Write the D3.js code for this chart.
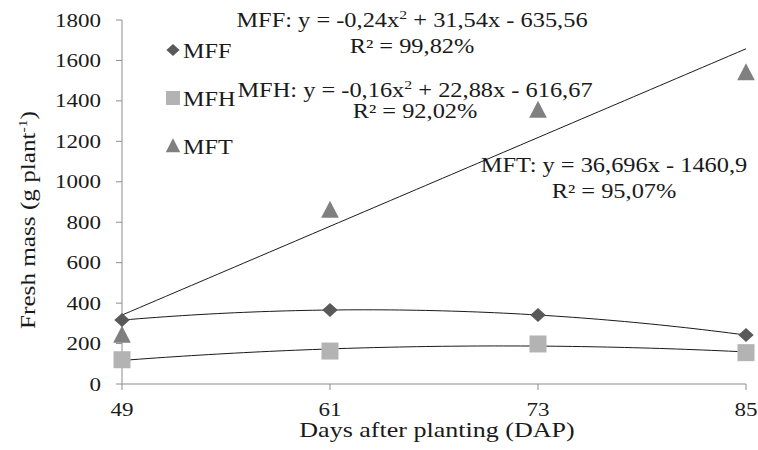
<!DOCTYPE html>
<html>
<head>
<meta charset="utf-8">
<script src="https://cdn.jsdelivr.net/npm/d3@7"></script>
<style>
  html, body { margin: 0; padding: 0; background: #fff; }
  svg { display: block; }
  svg text { font-family: "Liberation Serif", "Tinos", "DejaVu Serif", "Times New Roman", Times, serif; fill: #1a1a1a; }
</style>
</head>
<body>
<svg id="chart" width="758" height="450" font-family="Liberation Serif, DejaVu Serif, serif"></svg>
<script>
// ---- data ----
const days = [49, 61, 73, 85];
const xTicks = [49, 61, 73, 85];
const yTicks = [0, 200, 400, 600, 800, 1000, 1200, 1400, 1600, 1800];
const seriesNames = ["MFF", "MFH", "MFT"];
const mff = [316, 366, 341, 242];
const mfh = [120, 163, 198, 155];
const mft = [242, 860, 1355, 1540];
const fitDegree = [2, 2, 1];
const eqLabels = [
  ["MFF: y = -0,24x", "2", " + 31,54x - 635,56"],
  ["MFH: y = -0,16x", "2", " + 22,88x - 616,67"],
  ["MFT: y = 36,696x - 1460,9", "", ""]
];
const r2Labels = ["R² = 99,82%", "R² = 92,02%", "R² = 95,07%"];
const xTitle = "Days after planting (DAP)";
const yTitle = ["Fresh mass (g plant", "-1", ")"];

// ---- styles ----
const colors = ["#595959", "#b3b3b3", "#808080"];
const SX = 1.22;
const svg = d3.select("#chart");

const x = d3.scaleLinear().domain([49, 85]).range([122, 746]);
const y = d3.scaleLinear().domain([0, 1800]).range([384, 20]);

// axes
const axisColor = "#8c8c8c";
const gx = svg.append("g").attr("transform", `translate(0,${y(0)})`);
gx.append("line").attr("x1", x(49)).attr("x2", x(85)).attr("stroke", axisColor);
gx.selectAll("line.t").data(xTicks).enter().append("line").attr("class", "t")
  .attr("x1", d => x(d)).attr("x2", d => x(d)).attr("y1", 0).attr("y2", 6).attr("stroke", axisColor);
gx.selectAll("text").data(xTicks).enter().append("text")
  .attr("transform", d => `translate(${x(d)},32) scale(1.28,1)`)
  .attr("text-anchor", "middle").attr("font-size", 18).text(d => d);

const gy = svg.append("g").attr("transform", `translate(${x(49)},0)`);
gy.append("line").attr("y1", y(0)).attr("y2", y(1800)).attr("stroke", axisColor);
gy.selectAll("line.t").data(yTicks).enter().append("line").attr("class", "t")
  .attr("y1", d => y(d)).attr("y2", d => y(d)).attr("x1", -6).attr("x2", 0).attr("stroke", axisColor);
gy.selectAll("text").data(yTicks).enter().append("text")
  .attr("transform", d => `translate(-21,${y(d) + 6.5}) scale(1.28,1)`)
  .attr("text-anchor", "end").attr("font-size", 18).text(d => d);

// axis titles
svg.append("text").attr("transform", `translate(${(x(49) + x(85)) / 2 + 3},437) scale(1.24,1)`)
  .attr("text-anchor", "middle").attr("font-size", 21).text(xTitle);
const yt = svg.append("text").attr("transform", `translate(35,220) rotate(-90) scale(1.2,1)`)
  .attr("text-anchor", "middle").attr("font-size", 21);
yt.append("tspan").text(yTitle[0]);
yt.append("tspan").attr("font-size", 13).attr("dy", -8).text(yTitle[1]);
yt.append("tspan").attr("dy", 8).text(yTitle[2]);

// least-squares polynomial fit
function polyfit(xs, ys, deg) {
  const n = deg + 1;
  const A = Array.from({length: n}, () => new Array(n + 1).fill(0));
  xs.forEach((xv, k) => {
    for (let i = 0; i < n; i++) {
      for (let j = 0; j < n; j++) A[i][j] += Math.pow(xv, i + j);
      A[i][n] += ys[k] * Math.pow(xv, i);
    }
  });
  for (let i = 0; i < n; i++) {
    let p = i;
    for (let r = i + 1; r < n; r++) if (Math.abs(A[r][i]) > Math.abs(A[p][i])) p = r;
    [A[i], A[p]] = [A[p], A[i]];
    for (let r = 0; r < n; r++) {
      if (r === i) continue;
      const f = A[r][i] / A[i][i];
      for (let c = i; c <= n; c++) A[r][c] -= f * A[i][c];
    }
  }
  return A.map((row, i) => row[n] / row[i]);
}

const allSeries = [mff, mfh, mft];
const line = d3.line().x(d => x(d[0])).y(d => y(d[1]));
allSeries.forEach((vals, si) => {
  const coef = polyfit(days, vals, fitDegree[si]);
  const pts = d3.range(49, 85.01, 0.5).map(t => [t, coef.reduce((s, c, i) => s + c * Math.pow(t, i), 0)]);
  svg.append("path").attr("d", line(pts)).attr("fill", "none").attr("stroke", "#1a1a1a").attr("stroke-width", 1);
});

// markers
function marker(g, type, size) {
  if (type === 0) return g.append("path").attr("d", `M0,${-size * 0.5}L${size * 0.55},0L0,${size * 0.5}L${-size * 0.55},0Z`);
  if (type === 1) return g.append("rect").attr("x", -size / 2).attr("y", -size / 2).attr("width", size).attr("height", size);
  return g.append("path").attr("d", `M0,${-size * 0.55}L${size * 0.52},${size * 0.45}L${-size * 0.52},${size * 0.45}Z`);
}
const plotSizes = [14, 17, 17];
[mft, mfh, mff].forEach((vals, k) => {
  const si = 2 - k;
  vals.forEach((v, i) => {
    const g = svg.append("g").attr("transform", `translate(${x(days[i])},${y(v)})`);
    marker(g, si, plotSizes[si]).attr("fill", colors[si]);
  });
});

// legend
const legRows = [50, 98, 146];
seriesNames.forEach((name, si) => {
  const g = svg.append("g").attr("transform", `translate(173,${legRows[si]})`);
  marker(g, si, [12, 14, 14][si]).attr("fill", colors[si]);
  g.append("text").attr("transform", `translate(10,8) scale(1.1,1)`).attr("font-size", 22).text(name);
});

// equation labels
const eqPos = [[412, 27, 53], [415, 97, 118], [614, 172, 198]];
eqLabels.forEach((parts, si) => {
  const [cx, y1, y2] = eqPos[si];
  const t = svg.append("text").attr("transform", `translate(${cx},${y1}) scale(${SX},1)`)
    .attr("text-anchor", "middle").attr("font-size", 20);
  t.append("tspan").text(parts[0]);
  if (parts[1]) {
    t.append("tspan").attr("font-size", 13).attr("dy", -8).text(parts[1]);
    t.append("tspan").attr("dy", 8).text(parts[2]);
  }
  svg.append("text").attr("transform", `translate(${cx},${y2}) scale(${SX},1)`)
    .attr("text-anchor", "middle").attr("font-size", 20).text(r2Labels[si]);
});
</script>
</body>
</html>
